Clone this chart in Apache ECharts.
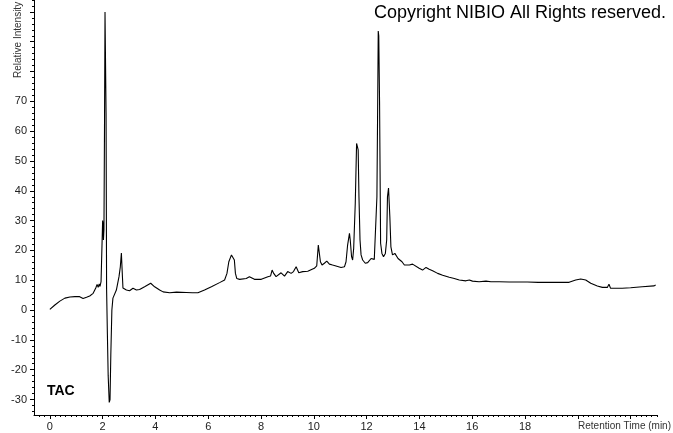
<!DOCTYPE html>
<html><head><meta charset="utf-8">
<script src="https://cdn.jsdelivr.net/npm/echarts@6/dist/echarts.min.js"></script>
<style>html,body{margin:0;padding:0;background:#fff}#c{width:673px;height:433px}</style>
</head><body><div id="c"></div>
<script>
// Chromatogram (TAC)
const retentionTime = [
 0.00,0.19,0.38,0.57,0.76,0.95,1.13,1.26,1.39,1.51,1.64,1.74,1.79,1.83,1.87,1.90,1.94,1.99,
 2.00,2.02,2.03,2.05,2.07,2.09,2.11,2.13,2.15,2.18,2.21,2.25,2.28,2.31,2.35,2.39,2.52,2.62,2.67,2.71,2.75,2.77,2.90,
 3.02,3.15,3.28,3.40,3.59,3.82,3.97,4.16,4.29,4.54,4.80,5.17,5.40,5.61,5.86,6.12,6.43,6.62,6.71,6.78,6.83,6.88,6.93,6.99,
 7.03,7.08,7.19,7.44,7.56,7.75,8.01,8.26,8.36,8.42,8.48,8.57,8.76,8.89,9.01,9.14,9.23,9.33,9.43,9.58,9.77,9.83,
 10.02,10.11,10.17,10.21,10.25,10.31,10.40,10.49,10.59,10.71,10.84,11.03,11.16,11.22,11.28,11.35,11.38,11.43,11.47,11.51,
 11.57,11.62,11.68,11.71,11.75,11.79,11.85,11.95,12.04,12.17,12.29,12.36,12.39,12.42,12.44,12.46,12.49,12.53,12.58,12.64,
 12.71,12.76,12.79,12.83,12.88,12.92,12.98,13.07,13.14,13.19,13.26,13.34,13.43,13.62,13.74,13.80,13.99,14.12,14.25,14.37,
 14.50,14.69,14.88,15.13,15.32,15.51,15.76,15.89,16.01,16.26,16.52,16.71,17.02,17.40,18.09,18.50,19.00,19.67,19.92,20.11,
 20.30,20.49,20.74,20.93,21.12,21.18,21.24,21.68,22.00,22.44,22.88,22.95
];
const intensity = [
 0.2,1.7,3.0,4.0,4.4,4.5,4.5,3.9,4.3,4.7,5.6,7.4,8.6,7.6,8.8,7.9,9.5,9.8,
 30.0,28.5,23.5,27.0,60.0,100.0,99.5,66.0,7.0,-8.0,-22.0,-31.0,-30.0,-15.0,0.0,4.0,6.7,11.2,14.5,19.1,11.2,7.4,6.7,
 6.5,7.3,6.7,6.9,7.8,9.0,7.8,6.7,6.1,5.8,6.0,5.9,5.8,5.8,6.7,7.8,9.2,10.1,12.3,16.2,16.8,18.5,18.8,16.8,
 12.3,10.6,10.3,10.6,11.2,10.3,10.3,11.2,11.4,13.4,12.3,11.2,12.5,11.4,12.9,12.3,12.9,14.5,12.5,12.9,13.0,13.4,
 14.0,14.8,21.8,21.2,16.2,15.1,15.7,16.4,15.4,15.1,14.8,14.3,14.5,16.2,21.8,25.7,23.5,17.9,16.8,20.7,
 35.8,55.9,53.7,38.0,23.5,18.5,16.8,15.7,15.9,17.3,17.0,16.5,38.0,70.0,93.6,92.0,70.0,22.4,19.0,17.9,
 19.0,23.5,38.0,40.9,31.3,21.2,18.5,19.0,19.6,17.3,17.3,16.2,15.1,15.1,15.4,14.8,14.0,13.4,14.3,13.7,
 13.2,12.3,11.7,11.0,10.6,10.1,9.8,10.1,9.7,9.5,9.7,9.5,9.5,9.4,9.4,9.3,9.3,9.3,10.1,10.4,
 10.1,9.0,8.1,7.6,7.6,8.7,7.3,7.3,7.5,7.8,8.1,8.4
];
const xTickLabels = [0, 2, 4, 6, 8, 10, 12, 14, 16, 18];
const yTickLabels = [-30, -20, -10, 0, 10, 20, 30, 40, 50, 60, 70];
const xMajorTicks = [0, 2, 4, 6, 8, 10, 12, 14, 16, 18, 20, 22];
const yMajorTicks = [-30, -20, -10, 0, 10, 20, 30, 40, 50, 60, 70, 80, 90, 100];

const X_MIN = -0.6, X_MAX = 23, Y_MIN = -35.2, Y_MAX = 104;
const xMinorTicks = [];
for (let i = -2; i <= 115; i++) { const v = +(i * 0.2).toFixed(2); if (v > X_MIN && v <= X_MAX) xMinorTicks.push(v); }
const yMinorTicks = [];
for (let v = -34; v <= 104; v += 2) yMinorTicks.push(v);

const pts = retentionTime.map((t, i) => [t, intensity[i]]);
const FONT = 'Liberation Sans, Arial, sans-serif';
const chart = echarts.init(document.getElementById('c'), null, {renderer: 'canvas'});
const axCommon = {type: 'value', splitLine: {show: false}};
chart.setOption({
  animation: false,
  backgroundColor: '#fff',
  grid: {left: 34, right: 16, top: 0, bottom: 18, containLabel: false},
  xAxis: [
    Object.assign({}, axCommon, {
      min: X_MIN, max: X_MAX, position: 'bottom',
      axisLine: {show: true, onZero: false, lineStyle: {color: '#000', width: 1}},
      axisTick: {show: true, customValues: xMajorTicks, length: 4, lineStyle: {color: '#000'}},
      axisLabel: {show: true, customValues: xTickLabels, color: '#222', fontFamily: FONT, fontSize: 11, margin: 6}
    }),
    Object.assign({}, axCommon, {
      min: X_MIN, max: X_MAX, position: 'bottom',
      axisLine: {show: false, onZero: false},
      axisTick: {show: true, customValues: xMinorTicks, length: 2, lineStyle: {color: '#000'}},
      axisLabel: {show: false}
    })
  ],
  yAxis: [
    Object.assign({}, axCommon, {
      min: Y_MIN, max: Y_MAX, position: 'left',
      axisLine: {show: true, onZero: false, lineStyle: {color: '#000', width: 1}},
      axisTick: {show: true, customValues: yMajorTicks, length: 4, lineStyle: {color: '#000'}},
      axisLabel: {show: true, customValues: yTickLabels, color: '#222', fontFamily: FONT, fontSize: 11, margin: 7}
    }),
    Object.assign({}, axCommon, {
      min: Y_MIN, max: Y_MAX, position: 'left',
      axisLine: {show: false, onZero: false},
      axisTick: {show: true, customValues: yMinorTicks, length: 2, lineStyle: {color: '#000'}},
      axisLabel: {show: false}
    })
  ],
  series: [{
    type: 'line', xAxisIndex: 0, yAxisIndex: 0, data: pts,
    showSymbol: false, symbol: 'none', silent: true,
    lineStyle: {color: '#000', width: 1.1}
  }],
  graphic: [
    {type: 'text', right: 7, top: 4, style: {text: 'Copyright NIBIO All Rights reserved.', fill: '#000', font: '18px ' + FONT}},
    {type: 'text', left: 47, top: 384, style: {text: 'TAC', fill: '#000', font: 'bold 14px ' + FONT}},
    {type: 'text', right: 2, top: 421, style: {text: 'Retention Time (min)', fill: '#333', font: '10px ' + FONT}},
    {type: 'text', x: 13, y: 78, rotation: Math.PI / 2, style: {text: 'Relative Intensity', fill: '#333', font: '10px ' + FONT, textAlign: 'left', textVerticalAlign: 'top'}}
  ]
});
</script></body></html>
